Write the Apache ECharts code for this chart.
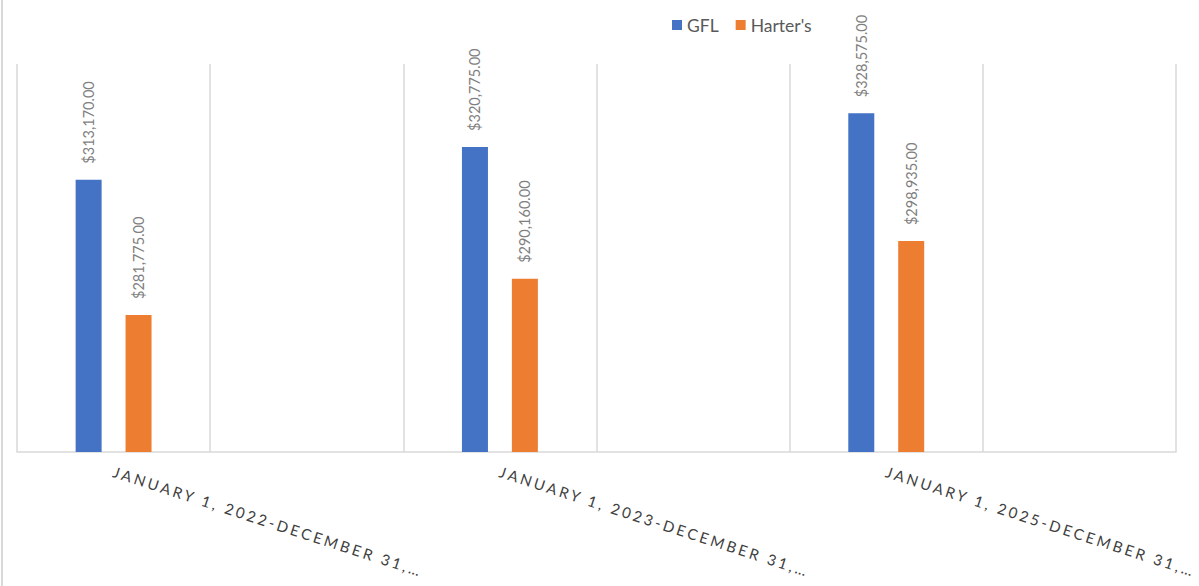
<!DOCTYPE html>
<html>
<head>
<meta charset="utf-8">
<script src="https://cdn.jsdelivr.net/npm/echarts@6/dist/echarts.min.js"></script>
<style>
html,body{margin:0;padding:0;background:#fff;}
#chart{width:1199px;height:586px;}
</style>
</head>
<body>
<div id="chart"></div>
<script>
const categories = [
  'JANUARY 1, 2022-DECEMBER 31,…', '',
  'JANUARY 1, 2023-DECEMBER 31,…', '',
  'JANUARY 1, 2025-DECEMBER 31,…', ''
];
const seriesNames = ['GFL', "Harter's"];
const gflValues = [313170, null, 320775, null, 328575, null];
const harterValues = [281775, null, 290160, null, 298935, null];
const yMin = 250000;
const yMax = 340000;

const fmt = v => '$' + Number(v).toLocaleString('en-US', {minimumFractionDigits: 2, maximumFractionDigits: 2});
const FONT = 'Lato, "Liberation Sans", sans-serif';

const chart = echarts.init(document.getElementById('chart'), null, {renderer: 'svg'});
const labelOpt = {
  show: true,
  position: 'top',
  rotate: 90,
  align: 'left',
  verticalAlign: 'middle',
  distance: 16,
  color: '#7f7f7f',
  fontSize: 14.5,
  fontFamily: FONT,
  formatter: p => fmt(p.value)
};
chart.setOption({
  animation: false,
  backgroundColor: '#fff',
  legend: {
    data: seriesNames,
    top: 11,
    left: 667,
    itemWidth: 10,
    itemHeight: 10,
    itemGap: 17,
    icon: 'rect',
    textStyle: {color: '#595959', fontSize: 17.5, fontFamily: FONT}
  },
  grid: {left: 17, right: 23, top: 64, bottom: 134, containLabel: false},
  xAxis: {
    type: 'category',
    data: categories,
    boundaryGap: true,
    axisLine: {show: true, lineStyle: {color: '#d9d9d9', width: 1.5}},
    axisTick: {show: false},
    splitLine: {show: true, lineStyle: {color: '#d9d9d9', width: 1.5}},
    axisLabel: {
      interval: 0,
      rotate: -18,
      margin: 19,
      color: '#404040',
      fontSize: 15,
      fontFamily: FONT
    }
  },
  yAxis: {
    type: 'value',
    min: yMin,
    max: yMax,
    show: false,
    splitLine: {show: false}
  },
  series: [
    {
      name: seriesNames[0], type: 'bar', data: gflValues,
      barWidth: 26, barGap: '92%',
      itemStyle: {color: '#4472C4'},
      label: labelOpt
    },
    {
      name: seriesNames[1], type: 'bar', data: harterValues,
      barWidth: 26, barGap: '92%',
      itemStyle: {color: '#ED7D31'},
      label: labelOpt
    }
  ],
  graphic: [{
    type: 'line',
    shape: {x1: 2, y1: 0, x2: 2, y2: 586},
    style: {stroke: '#d9d9d9', lineWidth: 2}
  }]
});

function spaceLabels() {
  document.querySelectorAll('#chart svg text').forEach(t => {
    if (t.textContent.indexOf('JANUARY') === 0) {
      t.setAttribute('letter-spacing', '2.85px');
      t.style.letterSpacing = '2.85px';
    }
  });
}
spaceLabels();
chart.on('finished', spaceLabels);
</script>
</body>
</html>
